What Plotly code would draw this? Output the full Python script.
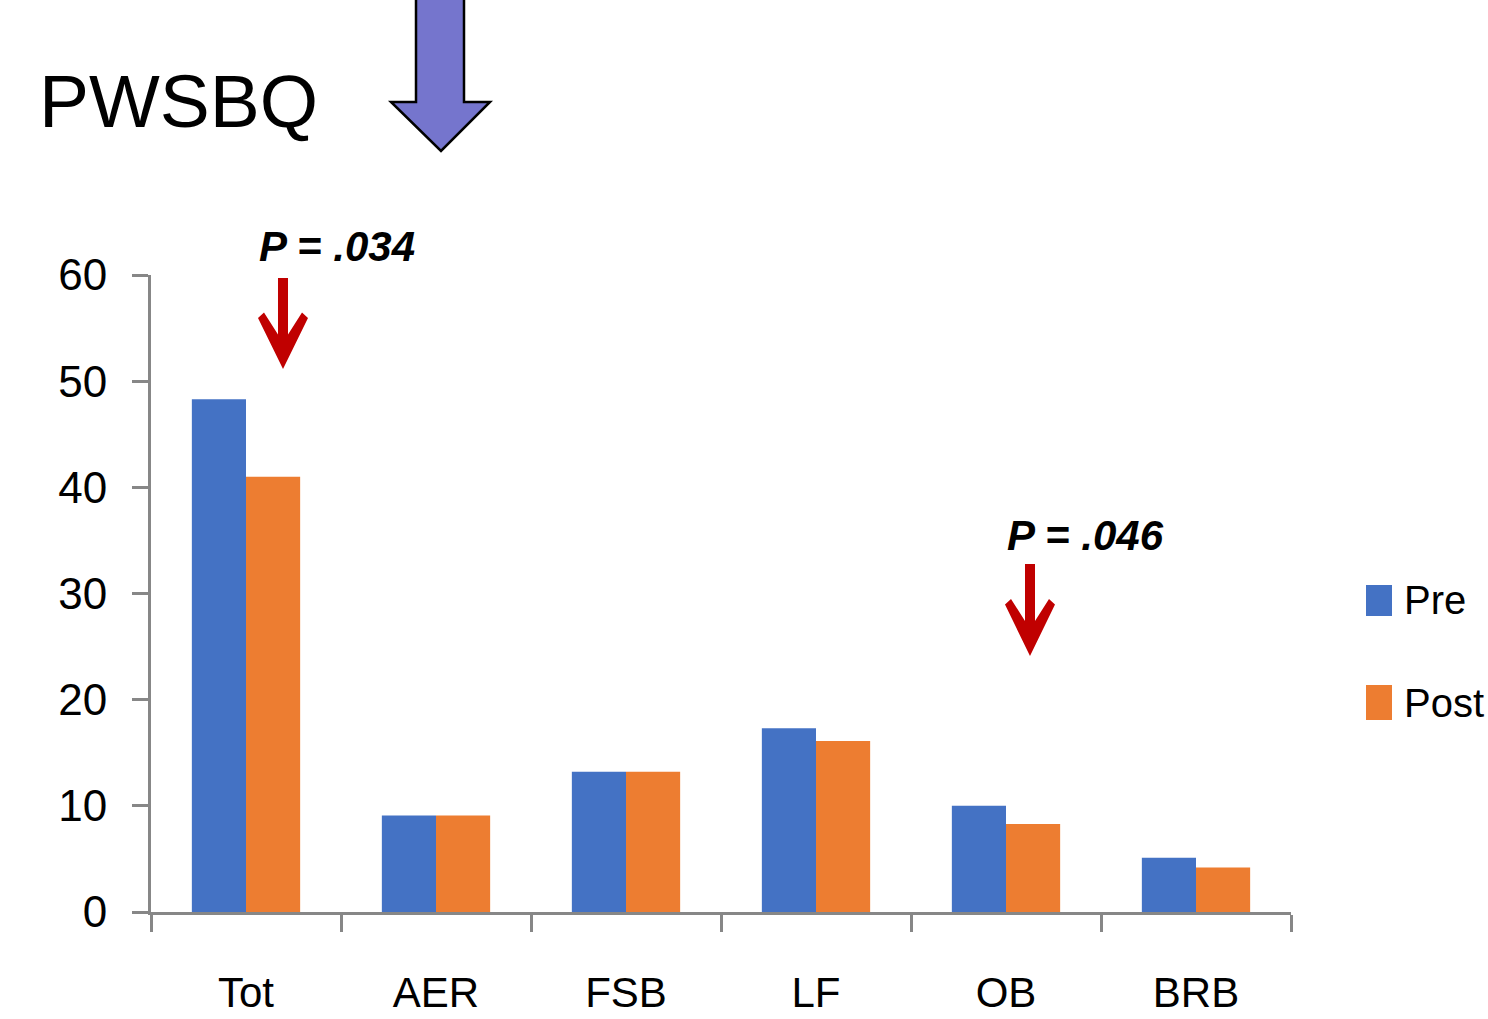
import plotly.graph_objects as go

categories = ["Tot", "AER", "FSB", "LF", "OB", "BRB"]
pre_values = [48.3, 9.1, 13.2, 17.3, 10.0, 5.1]
post_values = [41.0, 9.1, 13.2, 16.1, 8.3, 4.2]
series_names = ["Pre", "Post"]
y_ticks = [0, 10, 20, 30, 40, 50, 60]

PRE_COLOR = "#4472C4"
POST_COLOR = "#ED7D31"
AXIS_COLOR = "#878787"
FONT = "Liberation Sans, Arial"

W, H = 1488, 1019
L, R, T, B = 151, 1291, 275, 912  # plot-area pixel box


def px(x, y):
    """pixel -> paper coords (for decorations only)"""
    return (x - L) / (R - L), (B - y) / (B - T)


def path(points):
    parts = []
    for i, (x, y) in enumerate(points):
        xp, yp = px(x, y)
        parts.append(("M" if i == 0 else "L") + f"{xp:.5f},{yp:.5f}")
    return " ".join(parts) + " Z"


fig = go.Figure()
fig.add_trace(go.Bar(x=categories, y=pre_values, name=series_names[0],
                     marker=dict(color=PRE_COLOR, line=dict(width=0)), showlegend=False))
fig.add_trace(go.Bar(x=categories, y=post_values, name=series_names[1],
                     marker=dict(color=POST_COLOR, line=dict(width=0)), showlegend=False))

shapes = []
# purple block arrow beside the title
shapes.append(dict(type="path", xref="paper", yref="paper",
                   path=path([(416, -5), (464, -5), (464, 102), (490, 102),
                              (441, 151), (391, 102), (416, 102)]),
                   fillcolor="#7575CD", line=dict(color="black", width=2.5)))


def red_arrow(cx, top, tip):
    hs = tip - top
    pts = [(cx - 5, top), (cx + 5, top), (cx + 5, top + 0.62 * hs),
           (cx + 19, top + 0.38 * hs), (cx + 25, top + 0.44 * hs),
           (cx, tip), (cx - 25, top + 0.44 * hs), (cx - 19, top + 0.38 * hs),
           (cx - 5, top + 0.62 * hs)]
    return dict(type="path", xref="paper", yref="paper", path=path(pts),
                fillcolor="#C00000", line=dict(width=0))


shapes.append(red_arrow(283, 278, 369))
shapes.append(red_arrow(1030, 564, 656))

# legend swatches
for (y0, y1), col in zip([(585, 616), (685, 720)], [PRE_COLOR, POST_COLOR]):
    xa, ya = px(1366, y1)
    xb, yb = px(1392, y0)
    shapes.append(dict(type="rect", xref="paper", yref="paper",
                       x0=xa, y0=ya, x1=xb, y1=yb, fillcolor=col, line=dict(width=0)))

annotations = []
tx, ty = px(37, 101)
annotations.append(dict(text="PWSBQ", xref="paper", yref="paper", x=tx, y=ty,
                        xanchor="left", yanchor="middle", showarrow=False,
                        font=dict(family=FONT, size=75, color="black")))
for label, (x, y) in [("P = .034", (337, 247)), ("P = .046", (1085, 535))]:
    ax, ay = px(x, y)
    annotations.append(dict(text=f"<b><i>{label}</i></b>", xref="paper", yref="paper",
                            x=ax, y=ay, xanchor="center", yanchor="middle", showarrow=False,
                            font=dict(family=FONT, size=42, color="black")))
for name, y in zip(series_names, [600, 703]):
    ax, ay = px(1402, y)
    annotations.append(dict(text=name, xref="paper", yref="paper", x=ax, y=ay,
                            xanchor="left", yanchor="middle", showarrow=False,
                            font=dict(family=FONT, size=40, color="black")))

fig.update_layout(
    width=W, height=H,
    margin=dict(l=L, r=W - R, t=T, b=H - B, pad=0, autoexpand=False),
    paper_bgcolor="white", plot_bgcolor="white",
    barmode="group", bargap=0.43, bargroupgap=0,
    font=dict(family=FONT, size=44, color="black"),
    shapes=shapes, annotations=annotations,
)
fig.update_xaxes(showline=True, linecolor=AXIS_COLOR, linewidth=3, automargin=False,
                 ticks="outside", tickson="boundaries", ticklen=17, tickwidth=3,
                 tickcolor=AXIS_COLOR, showgrid=False, ticklabelstandoff=42,
                 tickfont=dict(family=FONT, size=42, color="black"))
fig.update_yaxes(range=[0, 60], tickvals=y_ticks, showline=True, linecolor=AXIS_COLOR,
                 linewidth=3, ticks="outside", ticklen=16, tickwidth=3, automargin=False,
                 tickcolor=AXIS_COLOR, showgrid=False, zeroline=False,
                 ticklabelstandoff=16, tickfont=dict(family=FONT, size=44, color="black"))

fig.write_html("out.html", config={"displayModeBar": False},
               post_script="document.body.style.margin='0';")
